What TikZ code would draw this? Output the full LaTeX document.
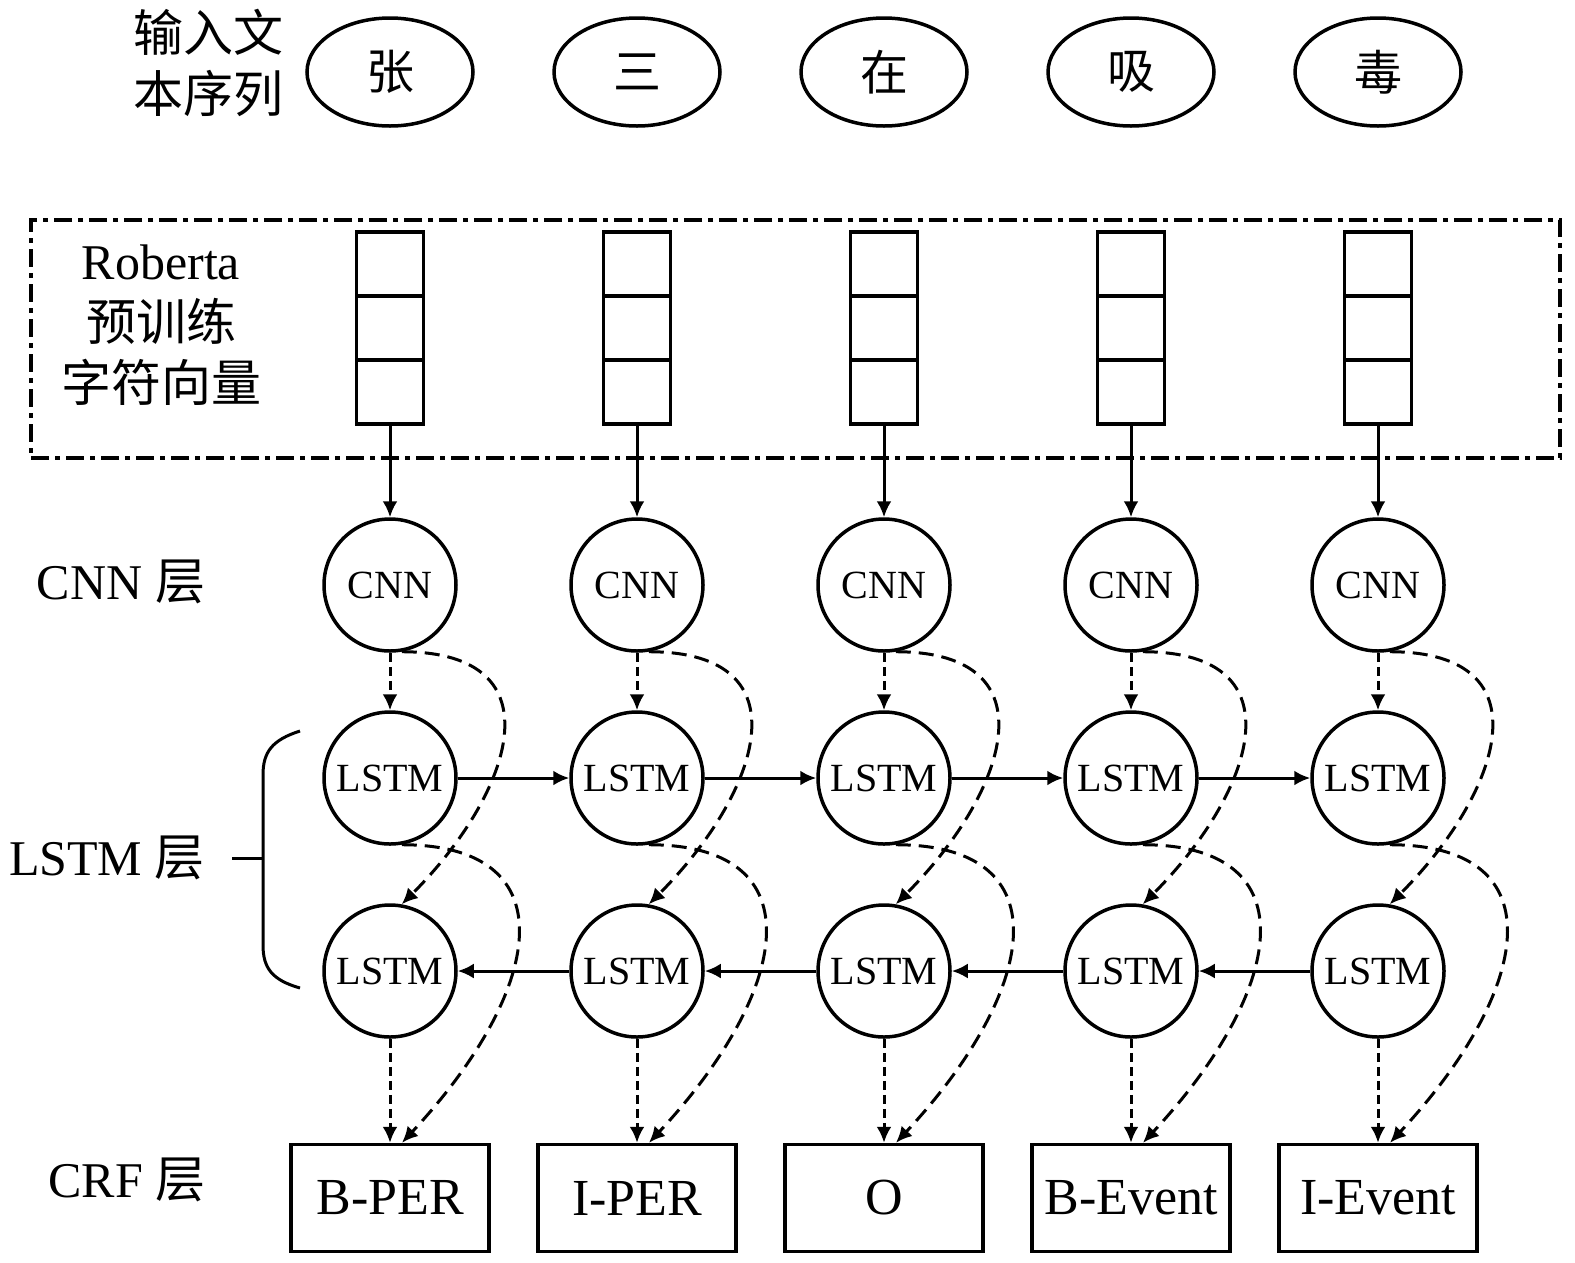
\documentclass[tikz,border=0pt]{standalone}
\usepackage{fontspec}
\setmainfont{Liberation Serif}
\newfontfamily\cjk{Noto Sans CJK SC}
\usepackage{tikz}
\usetikzlibrary{shapes,arrows.meta,calc}
\tikzstyle{word} = [draw, ellipse, line width=3.5pt, minimum width=166pt, minimum height=108pt, font=\cjk\fontsize{48}{48}\selectfont]
\tikzstyle{cell} = [draw, rectangle, line width=3.5pt, minimum width=67pt, minimum height=64pt]
\tikzstyle{unit} = [draw, circle, line width=3.5pt, minimum size=132pt, inner sep=0pt, font=\fontsize{40}{40}\selectfont]
\tikzstyle{tag} = [draw, rectangle, line width=3.5pt, minimum width=198pt, minimum height=107pt, font=\fontsize{52}{52}\selectfont]
\tikzstyle{embbox} = [draw, rectangle, line width=3.5pt, minimum width=1529pt, minimum height=238pt, dash pattern=on 18pt off 6pt on 5pt off 6pt]
\tikzstyle{layername} = [align=center, font=\fontsize{50}{61}\selectfont]
\tikzstyle{arrow} = [draw, line width=3pt, -{Latex[length=16pt,width=15pt]}]
\tikzstyle{dotarrow} = [arrow, dash pattern=on 9pt off 5pt]
\tikzstyle{curvearrow} = [arrow, dash pattern=on 15pt off 8pt]
\tikzstyle{line} = [draw, line width=3pt]

\begin{document}
\begin{tikzpicture}[x=1pt, y=1pt]
      \useasboundingbox (0,0) rectangle (1575,-1262);

      % layer names on the left
      \node[layername] (inname) at (208,-63) {\cjk 输入文\\\cjk 本序列};
      \node[layername] (embname) at (161,-325) {Roberta\\\cjk 预训练\\\cjk 字符向量};
      \node[layername] (cnnname) at (121,-582) {CNN {\cjk 层}};
      \node[layername] (lstmname) at (107,-858) {LSTM {\cjk 层}};
      \node[layername] (crfname) at (127,-1180) {CRF {\cjk 层}};

      \node[embbox] (emb) at (795.5,-339) {};

      % bracket round the two LSTM rows
      \draw[line] (300,-731) .. controls (272,-740) and (263,-752) .. (263,-775)
            -- (263,-945) .. controls (263,-968) and (272,-980) .. (300,-988);
      \coordinate (brace) at (263,-858);
      \draw[line] (232,-858) -- (brace);

      \foreach \x/\w/\tg [count=\i] in {390/张/B-PER, 637/三/I-PER, 884/在/O, 1131/吸/B-Event, 1378/毒/I-Event} {
        \node[word] (w\i) at (\x,-72) {\w};
        \node[cell] (va\i) at (\x,-264) {};
        \node[cell] (vb\i) at (\x,-328) {};
        \node[cell] (vc\i) at (\x,-392) {};
        \node[unit] (cnn\i) at (\x,-585) {CNN};
        \node[unit] (fw\i) at (\x,-778) {LSTM};
        \node[unit] (bw\i) at (\x,-971) {LSTM};
        \node[tag] (crf\i) at (\x,-1198) {\tg};

        \draw[arrow] (vc\i) -- (cnn\i);
        \draw[dotarrow] (cnn\i) -- (fw\i);
        \draw[dotarrow] (bw\i) -- (crf\i);
        \draw[curvearrow] (cnn\i.-80) .. controls +(160,0) and +(110,110) .. (bw\i.80);
        \draw[curvearrow] (fw\i.-80) .. controls +(170,0) and +(140,150) .. ([xshift=12pt]crf\i.north);
      }

      \foreach \i/\j in {1/2, 2/3, 3/4, 4/5} {
        \draw[arrow] (fw\i) -- (fw\j);
        \draw[arrow] (bw\j) -- (bw\i);
      }
    \end{tikzpicture}
\end{document}
